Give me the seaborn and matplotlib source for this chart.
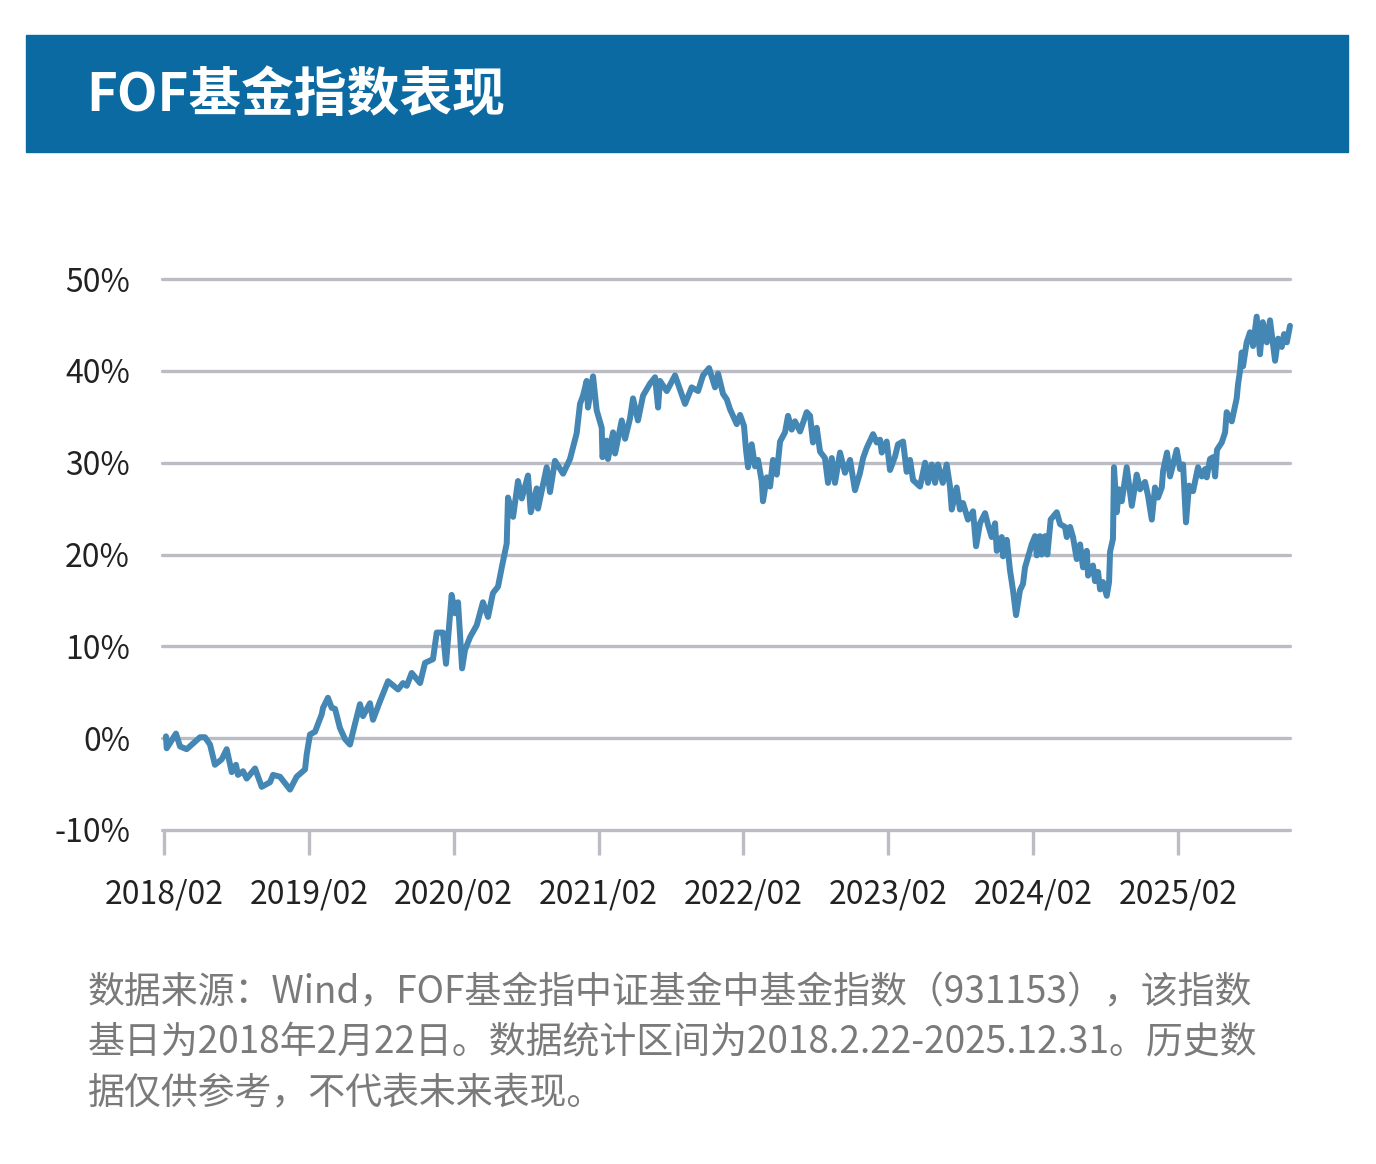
import matplotlib
matplotlib.use("Agg")
import matplotlib.pyplot as plt
import seaborn as sns
import pandas as pd
from matplotlib.patches import Rectangle

# dates as decimal years, values in %
t = [2018.097, 2018.102, 2018.166, 2018.194, 2018.240, 2018.332, 2018.366, 2018.401, 2018.435, 2018.482,
     2018.516, 2018.551, 2018.580, 2018.594, 2018.629, 2018.654, 2018.712, 2018.758, 2018.815, 2018.836,
     2018.884, 2018.953, 2018.999, 2019.057, 2019.068, 2019.091, 2019.126, 2019.172, 2019.181, 2019.215,
     2019.241, 2019.264, 2019.298, 2019.333, 2019.367, 2019.388, 2019.436, 2019.457, 2019.505, 2019.526,
     2019.574, 2019.630, 2019.699, 2019.733, 2019.759, 2019.793, 2019.851, 2019.885, 2019.940, 2019.966,
     2020.009, 2020.030, 2020.069, 2020.092, 2020.113, 2020.141, 2020.161, 2020.196, 2020.242, 2020.285,
     2020.320, 2020.354, 2020.389, 2020.415, 2020.449, 2020.458, 2020.493, 2020.527, 2020.553, 2020.596,
     2020.615, 2020.656, 2020.665, 2020.725, 2020.748, 2020.782, 2020.838, 2020.886, 2020.932, 2020.955,
     2020.976, 2021.001, 2021.010, 2021.045, 2021.070, 2021.105, 2021.110, 2021.139, 2021.148, 2021.183,
     2021.197, 2021.243, 2021.266, 2021.300, 2021.321, 2021.355, 2021.390, 2021.438, 2021.473, 2021.494,
     2021.507, 2021.554, 2021.611, 2021.680, 2021.726, 2021.770, 2021.804, 2021.846, 2021.887, 2021.908,
     2021.942, 2021.968, 2021.991, 2022.037, 2022.060, 2022.087, 2022.101, 2022.115, 2022.140, 2022.163,
     2022.184, 2022.209, 2022.218, 2022.244, 2022.267, 2022.287, 2022.313, 2022.336, 2022.370, 2022.391,
     2022.416, 2022.439, 2022.474, 2022.520, 2022.543, 2022.563, 2022.589, 2022.612, 2022.646, 2022.667,
     2022.693, 2022.715, 2022.750, 2022.784, 2022.819, 2022.853, 2022.888, 2022.909, 2022.934, 2022.978,
     2023.003, 2023.026, 2023.038, 2023.072, 2023.095, 2023.130, 2023.150, 2023.185, 2023.210, 2023.233,
     2023.254, 2023.302, 2023.337, 2023.357, 2023.383, 2023.406, 2023.426, 2023.459, 2023.486, 2023.509,
     2023.521, 2023.555, 2023.578, 2023.599, 2023.633, 2023.668, 2023.689, 2023.716, 2023.751, 2023.772,
     2023.797, 2023.820, 2023.832, 2023.866, 2023.875, 2023.901, 2023.923, 2023.944, 2023.965, 2023.992,
     2024.013, 2024.027, 2024.073, 2024.096, 2024.108, 2024.130, 2024.142, 2024.165, 2024.181, 2024.204,
     2024.246, 2024.269, 2024.303, 2024.315, 2024.338, 2024.358, 2024.384, 2024.407, 2024.427, 2024.453,
     2024.462, 2024.496, 2024.510, 2024.531, 2024.545, 2024.565, 2024.591, 2024.607, 2024.614, 2024.634,
     2024.641, 2024.660, 2024.676, 2024.695, 2024.729, 2024.764, 2024.798, 2024.821, 2024.855, 2024.876,
     2024.902, 2024.924, 2024.945, 2024.971, 2024.980, 2025.007, 2025.028, 2025.049, 2025.074, 2025.097,
     2025.118, 2025.138, 2025.159, 2025.187, 2025.221, 2025.247, 2025.270, 2025.281, 2025.304, 2025.325,
     2025.339, 2025.352, 2025.385, 2025.408, 2025.419, 2025.454, 2025.488, 2025.497, 2025.511, 2025.523,
     2025.532, 2025.557, 2025.580, 2025.601, 2025.626, 2025.649, 2025.668, 2025.696, 2025.718, 2025.753,
     2025.774, 2025.799, 2025.815, 2025.834, 2025.856]

ret = [0.2, -1.1, 0.5, -0.9, -1.2, 0.1, 0.1, -0.7, -2.9, -2.3,
       -1.2, -3.7, -2.9, -4.0, -3.6, -4.4, -3.3, -5.3, -4.8, -4.0,
       -4.2, -5.6, -4.2, -3.4, -1.8, 0.4, 0.7, 2.6, 3.3, 4.4,
       3.3, 3.2, 1.1, -0.1, -0.7, 0.7, 3.7, 2.4, 3.8, 2.0,
       4.0, 6.2, 5.3, 6.0, 5.7, 7.1, 6.0, 8.2, 8.6, 11.5,
       11.5, 8.1, 15.6, 13.6, 14.8, 7.6, 9.6, 11.0, 12.3, 14.8,
       13.2, 15.8, 16.5, 18.6, 21.2, 26.2, 24.1, 28.0, 26.1, 28.6,
       24.6, 27.2, 25.0, 29.5, 26.8, 30.2, 28.8, 30.4, 33.2, 36.4,
       37.3, 38.9, 36.0, 39.4, 35.7, 33.8, 30.6, 32.4, 30.4, 33.3,
       31.0, 34.6, 32.6, 34.8, 37.0, 34.6, 37.3, 38.6, 39.3, 36.0,
       38.9, 37.8, 39.5, 36.4, 38.2, 37.8, 39.5, 40.3, 38.2, 39.7,
       37.5, 36.9, 35.8, 34.2, 35.2, 34.0, 31.4, 29.5, 32.0, 29.6,
       30.3, 28.0, 25.8, 28.4, 27.4, 30.3, 28.7, 32.3, 33.3, 35.1,
       33.6, 34.5, 33.4, 35.5, 35.1, 32.2, 33.8, 31.2, 30.5, 27.8,
       30.5, 27.8, 31.1, 28.9, 30.3, 27.0, 28.9, 30.5, 31.6, 33.1,
       32.2, 32.5, 31.1, 32.3, 29.2, 30.7, 32.0, 32.3, 29.0, 30.3,
       28.1, 27.4, 30.0, 27.8, 29.8, 27.8, 29.8, 27.8, 29.8, 27.4,
       24.9, 27.3, 24.9, 25.6, 23.8, 24.7, 20.9, 23.4, 24.5, 23.2,
       21.9, 23.4, 20.4, 21.9, 19.8, 21.6, 18.3, 16.1, 13.4, 16.1,
       16.8, 18.6, 21.1, 22.0, 19.9, 22.0, 20.0, 22.0, 20.0, 23.8,
       24.6, 23.3, 23.0, 21.9, 23.0, 21.9, 19.5, 21.1, 18.6, 20.4,
       17.7, 18.8, 17.1, 18.1, 16.2, 17.0, 15.5, 17.0, 20.3, 21.7,
       29.5, 24.6, 27.1, 25.8, 29.5, 25.3, 28.7, 27.1, 27.9, 26.4,
       23.8, 27.3, 26.2, 27.3, 29.1, 31.1, 28.5, 29.8, 31.4, 29.3,
       29.8, 23.5, 27.5, 26.9, 29.5, 28.5, 29.3, 28.4, 30.4, 30.6,
       28.5, 31.4, 32.2, 33.3, 35.5, 34.5, 37.0, 38.5, 40.0, 42.0,
       40.5, 43.1, 44.2, 42.7, 45.9, 41.8, 45.3, 43.1, 45.5, 41.1,
       43.5, 42.6, 44.0, 43.1, 44.9]

x_ticks = [2018 + 1 / 12 + i for i in range(8)]
x_labels = ["2018/02", "2019/02", "2020/02", "2021/02", "2022/02", "2023/02", "2024/02", "2025/02"]
y_ticks = [-10, 0, 10, 20, 30, 40, 50]

title = "FOF基金指数表现"
note_lines = [
    "数据来源：Wind，FOF基金指中证基金中基金指数（931153），该指数",
    "基日为2018年2月22日。数据统计区间为2018.2.22-2025.12.31。历史数",
    "据仅供参考，不代表未来表现。",
]

sns.set_style("white")
plt.rcParams["font.family"] = ["Noto Sans CJK SC", "DejaVu Sans"]

W, H = 1376, 1164
fig = plt.figure(figsize=(W / 100, H / 100), dpi=100)

# header band
fig.patches.append(Rectangle((26 / W, 1 - 152 / H), (1348 - 26) / W, 117 / H,
                             transform=fig.transFigure, color="#0B6AA2", zorder=0))
fig.text(86 / W, 1 - 96 / H, title, color="white", fontsize=38, fontweight="bold",
         va="center", ha="left")

grid_c = "#BCBCC4"
ax = fig.add_axes([162 / W, 1 - 830 / H, (1290 - 162) / W, (830 - 279) / H])
df = pd.DataFrame({"t": t, "ret": ret})
sns.lineplot(data=df, x="t", y="ret", ax=ax, color="#4486B4", linewidth=4.3)
for line in ax.lines:
    line.set_clip_on(False)
    line.set_solid_joinstyle("round")

for yv in y_ticks:
    ax.axhline(yv, color=grid_c, linewidth=2.4, zorder=0, clip_on=False)

ax.set_xlim(2018 + 1 / 12 - 2 / 144.86, 2025.856)
ax.set_ylim(-10, 50)
ax.set_xticks(x_ticks)
ax.set_xticklabels(x_labels)
ax.set_yticks(y_ticks)
ax.set_yticklabels([f"{v}%" for v in y_ticks])
for s in ax.spines.values():
    s.set_visible(False)
ax.tick_params(axis="x", bottom=True, direction="out", length=18, width=2.4, color=grid_c,
               pad=17, labelsize=23, labelcolor="#222222")
ax.tick_params(axis="y", left=False, length=0, pad=23, labelsize=23, labelcolor="#222222")
ax.set_xlabel("")
ax.set_ylabel("")
ax.patch.set_alpha(0)

for i, line in enumerate(note_lines):
    fig.text(88 / W, 1 - (993 + 50 * i) / H, line, color="#7A7A7A", fontsize=26.6,
             fontweight="light", va="center", ha="left")

fig.savefig("out.png", dpi=100)
